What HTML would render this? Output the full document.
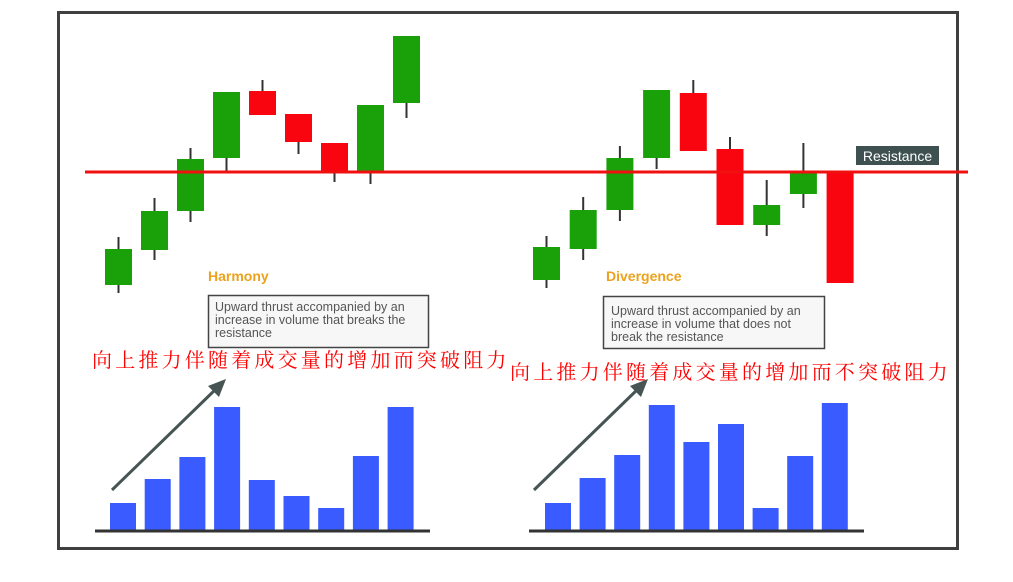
<!DOCTYPE html>
<html><head><meta charset="utf-8">
<style>
html,body{margin:0;padding:0;background:#fff;}
body{width:1013px;height:582px;overflow:hidden;position:relative;font-family:"Liberation Sans","Noto Sans CJK SC",sans-serif;}
svg{position:absolute;left:0;top:0;}
</style></head>
<body>
<svg id="chart" width="1013" height="582" viewBox="0 0 1013 582" xmlns="http://www.w3.org/2000/svg">
  <rect x="58.5" y="12.5" width="899" height="536" fill="#fff" stroke="#3f3f3f" stroke-width="3"/>
  <g id="candles"></g>
  <line id="resLine" x1="85" x2="968" stroke="#f01010" stroke-width="3"/>
  <rect x="856" y="146" width="83" height="19" fill="#3e5050"/>
  <text x="897.5" y="161" text-anchor="middle" font-size="14" fill="#fff" font-family="Liberation Sans, sans-serif">Resistance</text>
  <text x="208" y="281" font-size="14" font-weight="bold" fill="#eca21c">Harmony</text>
  <text x="606" y="281" font-size="14" font-weight="bold" fill="#eca21c">Divergence</text>
  <rect x="208.5" y="295.5" width="220" height="52" fill="#f7f7f7" stroke="#444" stroke-width="1.5"/>
  <text font-size="12.5" fill="#555">
    <tspan x="215" y="311">Upward thrust accompanied by an</tspan>
    <tspan x="215" y="324">increase in volume that breaks the</tspan>
    <tspan x="215" y="337">resistance</tspan>
  </text>
  <rect x="603.5" y="296.5" width="221" height="52" fill="#f7f7f7" stroke="#444" stroke-width="1.5"/>
  <text font-size="12.5" fill="#555">
    <tspan x="611" y="315">Upward thrust accompanied by an</tspan>
    <tspan x="611" y="328">increase in volume that does not</tspan>
    <tspan x="611" y="341">break the resistance</tspan>
  </text>
  <text x="92" y="367" font-size="20" fill="#f00" letter-spacing="3.2" font-family="Liberation Serif, Noto Serif CJK SC, serif">向上推力伴随着成交量的增加而突破阻力</text>
  <text x="510" y="379" font-size="20" fill="#f00" letter-spacing="3.2" font-family="Liberation Serif, Noto Serif CJK SC, serif">向上推力伴随着成交量的增加而不突破阻力</text>
  <g id="vols"></g>
  <line x1="95" x2="430" y1="531" y2="531" stroke="#333" stroke-width="3"/>
  <line x1="529" x2="864" y1="531" y2="531" stroke="#333" stroke-width="3"/>
  <g>
    <line x1="112" y1="490" x2="218" y2="387" stroke="#465454" stroke-width="3"/>
    <polygon points="226,379 208,386 219,397" fill="#465454"/>
  </g>
  <g>
    <line x1="534" y1="490" x2="640" y2="387" stroke="#465454" stroke-width="3"/>
    <polygon points="648,379 630,386 641,397" fill="#465454"/>
  </g>
</svg>
<script>
// price data (price units; higher = up)
const harmonyOpen  = [15, 50, 89, 142, 209, 186, 157, 129, 197];
const harmonyClose = [51, 89, 141, 208, 185, 158, 128, 195, 264];
const harmonyHigh  = [63, 102, 152, 208, 220, 186, 157, 195, 264];
const harmonyLow   = [7, 40, 78, 129, 185, 146, 118, 116, 182];
const divOpen  = [20, 51, 90, 142, 207, 151, 75, 106, 128];
const divClose = [53, 90, 142, 210, 149, 75, 95, 127, 17];
const divHigh  = [64, 103, 154, 210, 220, 163, 120, 157, 128];
const divLow   = [12, 40, 79, 131, 149, 75, 64, 92, 17];
const resistanceLevel = 128;
const harmonyVolume = [27, 51, 73, 123, 50, 34, 22, 74, 123];
const divVolume = [27, 52, 75, 125, 88, 106, 22, 74, 127];

const NS = "http://www.w3.org/2000/svg";
function yPrice(p){ return 300 - p; }
function yVol(v){ return 530 - v; }
function xCandle(start, step, i){ return start + step * i; }

function drawCandles(prefix, start, step, o, c, h, l){
  const g = document.getElementById('candles');
  for (let i = 0; i < o.length; i++){
    const x = xCandle(start, step, i);
    const up = c[i] >= o[i];
    const wick = document.createElementNS(NS, 'line');
    
    
    wick.setAttribute('x1', x + 13.5); wick.setAttribute('x2', x + 13.5);
    wick.setAttribute('y1', yPrice(h[i])); wick.setAttribute('y2', yPrice(l[i]));
    wick.setAttribute('stroke', '#333'); wick.setAttribute('stroke-width', '2');
    g.appendChild(wick);
    const r = document.createElementNS(NS, 'rect');
    
    
    const top = yPrice(Math.max(o[i], c[i])), bot = yPrice(Math.min(o[i], c[i]));
    r.setAttribute('x', x); r.setAttribute('y', top);
    r.setAttribute('width', 27); r.setAttribute('height', bot - top);
    r.setAttribute('fill', up ? '#1aa10a' : '#f8050f');
    g.appendChild(r);
  }
}
function drawVolume(prefix, start, step, vals){
  const g = document.getElementById('vols');
  for (let i = 0; i < vals.length; i++){
    const r = document.createElementNS(NS, 'rect');
    
    
    r.setAttribute('x', start + step * i); r.setAttribute('y', yVol(vals[i]));
    r.setAttribute('width', 26); r.setAttribute('height', vals[i]);
    r.setAttribute('fill', '#3a5bff');
    g.appendChild(r);
  }
}
drawCandles('harmony', 105, 36, harmonyOpen, harmonyClose, harmonyHigh, harmonyLow);
drawCandles('divergence', 533, 36.7, divOpen, divClose, divHigh, divLow);
const rl = document.getElementById('resLine');
rl.setAttribute('y1', yPrice(resistanceLevel)); rl.setAttribute('y2', yPrice(resistanceLevel));
drawVolume('harmony', 110, 34.7, harmonyVolume);
drawVolume('divergence', 545, 34.6, divVolume);
</script>
</body></html>
